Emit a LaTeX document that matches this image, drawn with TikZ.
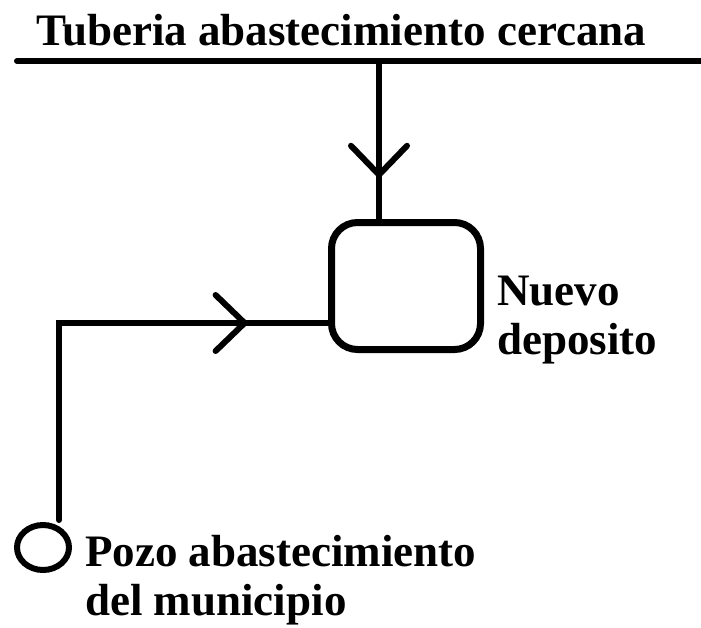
\documentclass[tikz,border=0pt]{standalone}
\usepackage{fontspec}
\setmainfont{Liberation Serif}
\usetikzlibrary{decorations.markings,shapes.geometric}
\begin{document}
\begin{tikzpicture}[x=1pt,y=-1pt,
  pipe/.style={line width=6pt},
  lbl/.style={font=\bfseries\fontsize{45}{49}\selectfont, inner sep=0pt, anchor=base west, align=left},
  chevron/.style={postaction={decorate,decoration={markings,
     mark=at position #1 with {\draw[line width=6pt,line cap=round,line join=miter] (-29pt,28pt) -- (0,0) -- (-29pt,-28pt);}}}}
]
\useasboundingbox (0,0) rectangle (701,627);
% labels
\node[lbl] (tlabel) at (36,45) {Tuberia abastecimiento cercana};
\node[lbl] (dlabel) at (497,354) {Nuevo\\deposito};
\node[lbl] (plabel) at (85,615) {Pozo abastecimiento\\del municipio};
% main pipe
\coordinate (pL) at (17,61);
\coordinate (pR) at (705,61);
\draw[pipe, line cap=round] (pL) -- (pR);
\coordinate (tap) at (379,61);
% tank
\node[draw, line width=7pt, rounded corners=26pt, minimum width=149pt, minimum height=127pt, inner sep=0pt] (tank) at (406,286) {};
% well
\node[draw, line width=6pt, ellipse, minimum width=52pt, minimum height=45pt, inner sep=0pt] (well) at (43,547.5) {};
\coordinate (corner) at (59,323);
% connectors
\draw[pipe, chevron=0.72] (tap) -- (tap |- tank.north);
\draw[pipe, line cap=round, line join=miter] (well.north -| corner) ++(0,-2) -- (corner) -- (corner -| tank.west);
\path[chevron=0.69] (corner) -- (corner -| tank.west);
\end{tikzpicture}
\end{document}
